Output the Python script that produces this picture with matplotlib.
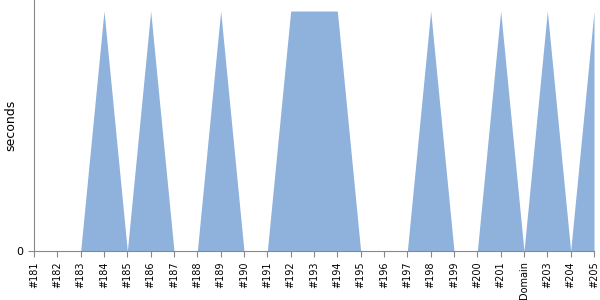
import matplotlib
matplotlib.use("Agg")
import matplotlib.pyplot as plt

# カテゴリと値
labels = ["#181", "#182", "#183", "#184", "#185", "#186", "#187", "#188", "#189",
          "#190", "#191", "#192", "#193", "#194", "#195", "#196", "#197", "#198",
          "#199", "#200", "#201", "Domain", "#203", "#204", "#205"]
values = [0, 0, 0, 1, 0, 1, 0, 0, 1, 0, 0, 1, 1, 1, 0, 0, 0, 1, 0, 0, 1, 0, 1, 0, 1]

fig = plt.figure(figsize=(6, 3), dpi=100)
ax = fig.add_axes([34 / 600, 49 / 300, 560 / 600, 251 / 300])

x = list(range(len(labels)))
ax.fill_between(x, values, 0, color="#8fb2dc", linewidth=0)

ax.set_xlim(0, len(labels) - 1)
ax.set_ylim(0, 1.046)
ax.set_xticks(x)
ax.set_xticklabels(labels, rotation=90, fontsize=7)
ax.set_yticks([0])
ax.set_yticklabels(["0"], fontsize=8)
ax.set_ylabel("seconds", fontsize=9)
ax.yaxis.set_label_coords(-0.030, 0.5)

for s in ["top", "right"]:
    ax.spines[s].set_visible(False)
for s in ["left", "bottom"]:
    ax.spines[s].set_color("#888888")
ax.tick_params(axis="both", colors="#888888", labelcolor="black", length=4)

fig.savefig("out.png", dpi=100)
